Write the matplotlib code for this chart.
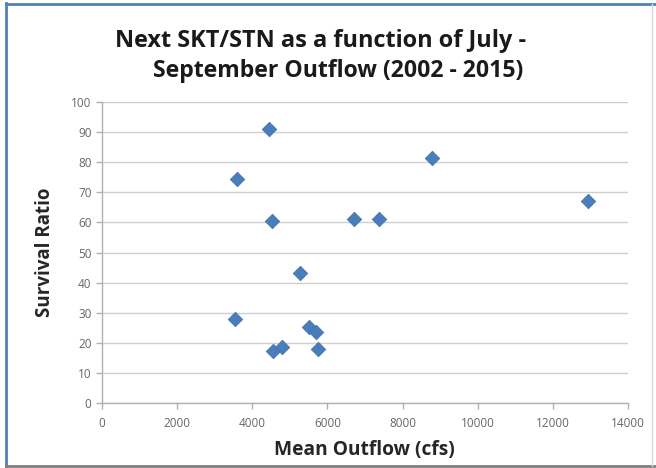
import matplotlib
matplotlib.use("Agg")
import matplotlib.pyplot as plt
from matplotlib.lines import Line2D

# Data
outflow = [4440, 3600, 4520, 6700, 7360, 5270, 3550, 5500, 5690, 4540, 4780, 5760, 8790, 12940]
survival = [91.2, 74.5, 60.6, 61.0, 61.0, 43.3, 28.0, 25.3, 23.7, 17.2, 18.6, 18.0, 81.3, 67.2]
x_ticks = [0, 2000, 4000, 6000, 8000, 10000, 12000, 14000]
y_ticks = [0, 10, 20, 30, 40, 50, 60, 70, 80, 90, 100]
title_lines = ["Next SKT/STN as a function of July -", "September Outflow (2002 - 2015)"]
x_label = "Mean Outflow (cfs)"
y_label = "Survival Ratio"

plt.rcParams['font.family'] = ['Open Sans', 'DejaVu Sans']

W, H = 656, 468
fig = plt.figure(figsize=(W / 100, H / 100), dpi=100)
fig.patch.set_facecolor('white')

ax = fig.add_axes([102 / W, 1 - 402.7 / H, (628 - 102) / W, (402.7 - 102.3) / H])
ax.scatter(outflow, survival, marker='D', s=55, color='#4A7EBB', edgecolors='#3E6FA8',
           linewidths=0.5, zorder=3)

ax.set_xlim(0, 14000)
ax.set_ylim(0, 100)
ax.set_xticks(x_ticks)
ax.set_yticks(y_ticks)
ax.set_xticklabels([str(v) for v in x_ticks])
ax.set_yticklabels([str(v) for v in y_ticks])
ax.yaxis.grid(True, color='#CFCFCF', linewidth=1.0)
ax.set_axisbelow(True)
for s in ['top', 'right']:
    ax.spines[s].set_visible(False)
for s in ['left', 'bottom']:
    ax.spines[s].set_color('#B0B0B0')
    ax.spines[s].set_linewidth(1.0)
ax.tick_params(axis='both', colors='#B0B0B0', labelcolor='#666666', labelsize=8.5,
               length=4, width=1)
ax.tick_params(axis='x', pad=6)

fig.text(364.5 / W, 1 - 450 / H, x_label, ha='center', va='center', fontsize=13.8,
         fontweight='bold', color='#262626')
fig.text(45.5 / W, 1 - 252 / H, y_label, ha='center', va='center', rotation=90,
         fontsize=13.5, fontweight='bold', color='#262626')

fig.text(321 / W, 1 - 47 / H, title_lines[0], ha='center', va='baseline', fontsize=16.9,
         fontweight='bold', color='#1A1A1A')
fig.text(338 / W, 1 - 77 / H, title_lines[1], ha='center', va='baseline', fontsize=16.6,
         fontweight='bold', color='#1A1A1A')

# Chart frame
fig.add_artist(Line2D([6 / W, 6 / W], [1 - 3 / H, 1 - 466 / H], transform=fig.transFigure,
                      color='#4F81BD', linewidth=2))
fig.add_artist(Line2D([6 / W, 1.0], [1 - 3.5 / H, 1 - 3.5 / H], transform=fig.transFigure,
                      color='#4F81BD', linewidth=2))
fig.add_artist(Line2D([6 / W, 1.0], [1 - 466 / H, 1 - 466 / H], transform=fig.transFigure,
                      color='#7F7F7F', linewidth=2))
fig.add_artist(Line2D([652 / W, 652 / W], [1 - 4 / H, 1 - 466 / H], transform=fig.transFigure,
                      color='#D9D9D9', linewidth=1))

fig.savefig('out.png', dpi=100)
